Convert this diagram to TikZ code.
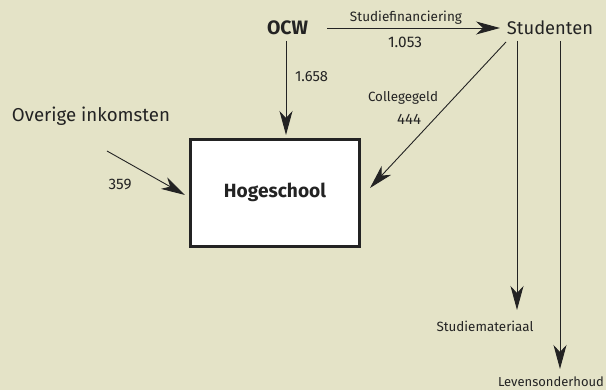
\documentclass[tikz,border=0pt]{standalone}
\usepackage{fontspec}
\usepackage{graphicx}
\setmainfont{Fira Sans}
\usetikzlibrary{arrows.meta}
\definecolor{bg}{RGB}{228,227,199}
\definecolor{ink}{RGB}{35,35,35}
\newcommand{\fitw}[2]{\resizebox{#1pt}{!}{#2}}
\begin{document}
\begin{tikzpicture}[x=1pt,y=-1pt,
  txt/.style={inner sep=0pt,text=ink,font=\fontsize{12}{14}\selectfont},
  boldtxt/.style={inner sep=0pt,text=ink,font=\fontsize{12}{14}\selectfont\bfseries},
  flow/.style={draw=ink,line width=0.9pt,-{Stealth[length=24pt,width=13pt,inset=7pt]}},
  boxstyle/.style={draw=ink,line width=3pt,fill=white,minimum width=169pt,minimum height=107pt,inner sep=0pt}]
\fill[bg] (0,0) rectangle (606,390);
\useasboundingbox (0,0) rectangle (606,390);
\node[boldtxt] (ocw) at (287.5,28) {\fitw{41}{OCW}};
\node[txt] (stud) at (550,28) {\fitw{86}{Studenten}};
\node[txt] (over) at (91,116) {\fitw{158}{Overige inkomsten}};
\node[boxstyle] (hs) at (275,193) {};
\node[boldtxt] (hst) at (275,192) {\fitw{102}{Hogeschool}};
\node[txt] (mat) at (485,326) {\fitw{97}{Studiemateriaal}};
\node[txt] (lev) at (551,382) {\fitw{106}{Levensonderhoud}};
\coordinate (sfA) at (327,28);
\coordinate (sfB) at (500,28);
\draw[flow] (sfA) -- (sfB);
\node[txt] (sfl) at (406,18) {\fitw{112}{Studiefinanciering}};
\node[txt] (sfv) at (405,42) {\fitw{34}{1.053}};
\coordinate (oA) at (286,41);
\coordinate (oB) at (286,135);
\draw[flow] (oA) -- (oB);
\node[txt] (ov) at (311.5,77) {\fitw{33}{1.658}};
\coordinate (cA) at (506,42);
\coordinate (cB) at (370,188);
\draw[flow] (cA) -- (cB);
\node[txt] (cl) at (403,98) {\fitw{70}{Collegegeld}};
\node[txt] (cv) at (409,119) {\fitw{24}{444}};
\coordinate (iA) at (107,151);
\coordinate (iB) at (185,195);
\draw[flow] (iA) -- (iB);
\node[txt] (iv) at (120,184) {\fitw{23}{359}};
\coordinate (mA) at (517,41);
\coordinate (mB) at (517,310);
\draw[flow] (mA) -- (mB);
\coordinate (lA) at (560,41);
\coordinate (lB) at (560,369);
\draw[flow] (lA) -- (lB);
\end{tikzpicture}
\end{document}
